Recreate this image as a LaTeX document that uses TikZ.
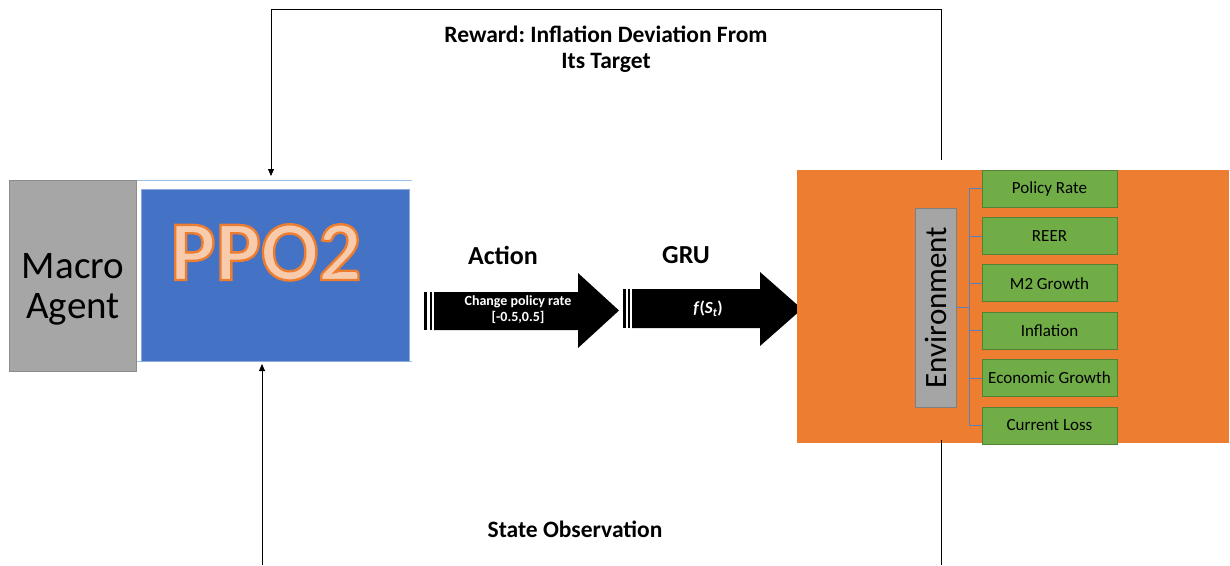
\documentclass[tikz,border=0pt]{standalone}
\usepackage{fontspec}
\setmainfont{Carlito}
\usetikzlibrary{arrows.meta}
\frenchspacing
\definecolor{agentfill}{HTML}{A6A6A6}
\definecolor{agentline}{HTML}{8C8C8C}
\definecolor{ppofill}{HTML}{4472C4}
\definecolor{ppoline}{HTML}{8FAADC}
\definecolor{rulelight}{HTML}{9DC3E6}
\definecolor{envorange}{HTML}{ED7D31}
\definecolor{peach}{HTML}{F8CBAD}
\definecolor{statefill}{HTML}{70AD47}
\definecolor{stateline}{HTML}{548235}
\definecolor{envgray}{HTML}{A5A5A5}
\definecolor{envgrayline}{HTML}{7F7F7F}
\definecolor{treeline}{HTML}{5B7FB8}
% outlined lettering: fill then stroke, stroke in orange
\newcommand{\outlinedword}[1]{\textcolor{peach}{%
  \special{pdf:literal direct 2 Tr 2.4 w 0.929 0.490 0.192 RG}#1%
  \special{pdf:literal direct 0 Tr}}}
\begin{document}
\begin{tikzpicture}[x=1pt,y=-1pt,
  box/.style={draw, inner sep=0pt, outer sep=0pt},
  statebox/.style={box, fill=statefill, draw=stateline, line width=0.8pt,
    minimum width=135pt, minimum height=37pt, font=\fontsize{17}{20}\selectfont},
  feedback/.style={line width=0.8pt, draw=black},
  tipend/.style={-{Triangle[length=7pt,width=6pt]}},
  heading/.style={font=\fontsize{23.5}{26}\selectfont\bfseries, inner sep=0pt},
  tree/.style={draw=treeline, line width=0.8pt}]

\useasboundingbox (0,0) rectangle (1230,565);

% agent block
\node[box, fill=agentfill, draw=agentline, line width=1pt,
  minimum width=127pt, minimum height=191pt] (agent) at (72.5,275.5) {};
\node[align=center, font=\fontsize{39}{40}\selectfont, inner sep=0pt]
  (agenttxt) at (73,289) {Macro\\Agent};

% PPO2 block with its light rules
\draw[rulelight, line width=0.8pt] (137,180) -- (412,180);
\draw[rulelight, line width=0.8pt] (137,361) -- (412,361);
\node[box, fill=ppofill, draw=ppoline, line width=0.6pt,
  minimum width=268pt, minimum height=172pt] (ppo) at (275,275) {};
\node[anchor=base, inner sep=0pt, font=\fontsize{85}{90}\selectfont\bfseries]
  (ppotxt) at (266,280) {\outlinedword{PPO2}};

% action arrow
\fill (424,292) rectangle (427,330);
\fill (429.5,292) rectangle (432,330);
\fill (434,292) -- (578,292) -- (578,273) -- (619,310.5) -- (578,348)
  -- (578,330) -- (434,330) -- cycle;
\node[font=\fontsize{14}{16}\selectfont\bfseries, text=white, align=center,
  inner sep=0pt] (acttxt) at (518,310) {Change policy rate\\{[-0.5,0.5]}};
\node[font=\fontsize{26}{28}\selectfont\bfseries, inner sep=0pt] (action) at (503,255) {Action};

% GRU arrow
\fill (623,289) rectangle (626,328);
\fill (627.5,289) rectangle (630,328);
\fill (632,289) -- (760,289) -- (760,272) -- (802,309) -- (760,346)
  -- (760,328) -- (632,328) -- cycle;
\node[text=white, inner sep=0pt, font=\fontsize{17}{19}\selectfont\bfseries]
  (gruftxt) at (708,309) {\itshape f\/\upshape(\itshape S\textsubscript{t}\upshape)};
\node[font=\fontsize{26}{28}\selectfont\bfseries, inner sep=0pt] (gru) at (686,255) {GRU};

% environment block
\node[box, fill=envorange, draw=none, minimum width=432pt, minimum height=273pt]
  (world) at (1013,306.5) {};
\node[box, fill=envgray, draw=envgrayline, line width=0.8pt,
  minimum width=41pt, minimum height=199pt] (env) at (935.5,307.5) {};
\node[rotate=90, inner sep=0pt, font=\fontsize{31}{33}\selectfont]
  (envtxt) at (env.center) {Environment};

\foreach \name/\txt [count=\i from 0] in
  {s1/Policy Rate, s2/REER, s3/M2 Growth, s4/Inflation,
   s5/Economic Growth, s6/Current Loss}
  \node[statebox] (\name) at (1049.5,{188.5+47.4*\i}) {\txt};

% tree connecting the environment to its state variables
\draw[tree] (env.east) -- ++(13,0) coordinate (hub);
\draw[tree] (hub |- s1.west) -- (hub |- s6.west);
\foreach \name in {s1,s2,s3,s4,s5,s6}
  \draw[tree] (hub |- \name.west) -- (\name.west);

% reward feedback loop
\coordinate (rstart) at (941,160);
\coordinate (rtop) at (941,9);
\coordinate (ltop) at (271,9);
\coordinate (rewardin) at (271,176);
\draw[feedback, tipend] (rstart) -- (rtop) -- (ltop) -- (rewardin);
\node[heading, align=center] (reward) at (606,49)
  {Reward: Inflation Deviation From\\Its Target};

% state observation loop
\coordinate (obsstart) at (941,440);
\coordinate (obsend) at (941,565);
\coordinate (obsbottom) at (262,565);
\coordinate (obsin) at (262,364);
\draw[feedback] (obsstart) -- (obsend);
\draw[feedback, tipend] (obsbottom) -- (obsin);
\node[heading] (state) at (575,529) {State Observation};

\end{tikzpicture}
\end{document}
